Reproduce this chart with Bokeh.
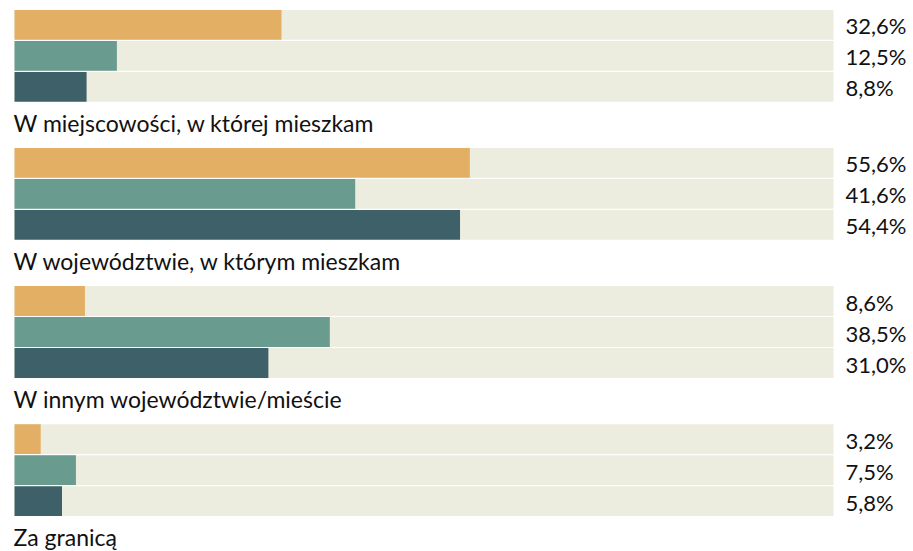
from bokeh.plotting import figure
from bokeh.models import Range1d, ColumnDataSource
from bokeh.embed import file_html
from bokeh.resources import INLINE
from bokeh.core.properties import value

categories = [
    "W miejscowości, w której mieszkam",
    "W województwie, w którym mieszkam",
    "W innym województwie/mieście",
    "Za granicą",
]
series_a = [32.6, 55.6, 8.6, 3.2]
series_b = [12.5, 41.6, 38.5, 7.5]
series_c = [8.8, 54.4, 31.0, 5.8]
series = [series_a, series_b, series_c]
colors = ["#E3AF64", "#699B8E", "#3E6069"]
bg_color = "#EDEDDF"
FULL = 100.0

W, H = 913, 551
# layout (pixels)
first_center = 24.3
group_step = 138.1
bar_step = 31.0
bar_h = 29.8
px_per_unit = 8.19
x0 = -14.0 / px_per_unit
x1 = x0 + W / px_per_unit

p = figure(width=W, height=H, output_backend="svg", toolbar_location=None,
           x_range=Range1d(x0, x1), y_range=Range1d(H, 0),
           min_border=0, min_border_left=0, min_border_right=0,
           min_border_top=0, min_border_bottom=0)
p.axis.visible = False
p.grid.visible = False
p.outline_line_color = None
p.background_fill_color = "white"
p.border_fill_color = "white"

ys, vals, cols, labs = [], [], [], []
for g in range(len(categories)):
    for i, s in enumerate(series):
        ys.append(first_center + g * group_step + i * bar_step)
        vals.append(s[g])
        cols.append(colors[i])
        labs.append(f"{s[g]:.1f}".replace(".", ",") + "%")

src = ColumnDataSource(dict(y=ys, v=vals, c=cols, lab=labs, full=[FULL] * len(ys)))
p.hbar(y="y", left=0, right="full", height=bar_h, color=bg_color, line_color=None, source=src)
p.hbar(y="y", left=0, right="v", height=bar_h, fill_color="c", line_color=None, source=src)
p.text(x="full", y="y", text="lab", source=src, x_offset=12, y_offset=1,
       text_font=value("Lato"), text_font_size="22px", text_color="#111111",
       text_baseline="middle", text_align="left")

cat_y = [first_center + g * group_step + 2 * bar_step + 36 for g in range(len(categories))]
csrc = ColumnDataSource(dict(x=[0] * len(categories), y=cat_y, t=categories))
p.text(x="x", y="y", text="t", source=csrc, x_offset=-1,
       text_font=value("Lato"), text_font_size="23px", text_color="#111111",
       text_baseline="middle", text_align="left")

open("out.html", "w").write(file_html(p, INLINE))
